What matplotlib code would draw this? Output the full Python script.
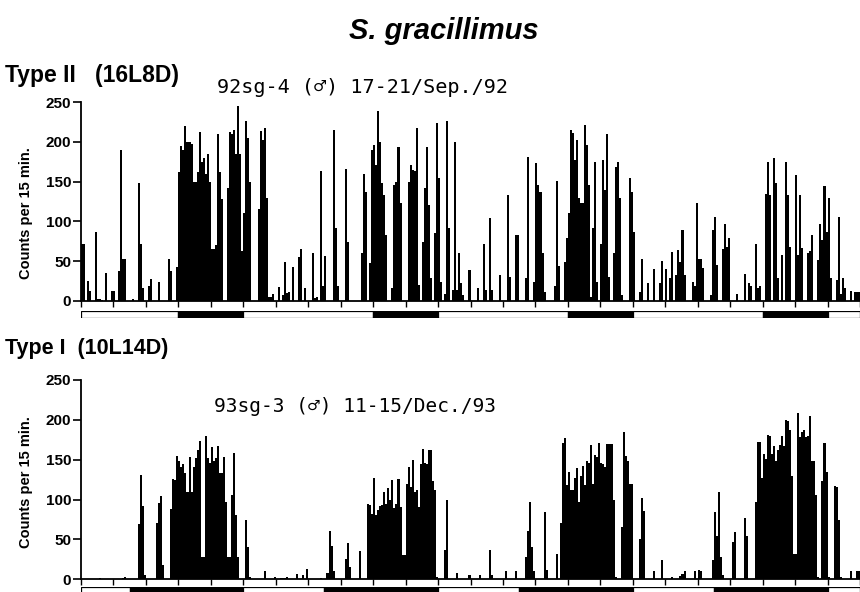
import numpy as np
import matplotlib
matplotlib.use('Agg')
import matplotlib.pyplot as plt

# -----------------------------
# data: counts per 15-min bin, 4 days = 384 bins (one row = 4 h)
# -----------------------------
type2_counts = [
    72, 72, 0, 25, 12, 0, 0, 86, 2, 2, 1, 0, 35, 0, 0, 12,
    12, 0, 38, 190, 53, 53, 0, 0, 0, 2, 0, 0, 148, 72, 16, 0,
    0, 18, 27, 0, 0, 0, 23, 0, 0, 0, 0, 53, 37, 0, 0, 43,
    162, 195, 190, 220, 200, 200, 198, 150, 150, 162, 212, 175, 180, 160, 185, 150,
    65, 65, 70, 210, 162, 128, 0, 0, 142, 212, 210, 215, 185, 245, 185, 62,
    110, 227, 205, 150, 0, 0, 0, 116, 214, 202, 218, 129, 5, 5, 9, 0,
    0, 17, 0, 7, 49, 10, 11, 0, 43, 0, 0, 55, 65, 0, 16, 0,
    0, 0, 60, 4, 5, 0, 163, 18, 56, 0, 0, 0, 215, 91, 18, 0,
    0, 0, 166, 74, 0, 0, 0, 0, 0, 0, 60, 160, 137, 0, 47, 190,
    196, 171, 239, 200, 148, 133, 83, 0, 0, 16, 146, 150, 194, 123, 0, 0,
    0, 150, 171, 165, 163, 217, 20, 0, 74, 142, 194, 121, 28, 0, 85, 224,
    154, 24, 0, 9, 226, 91, 0, 13, 200, 13, 60, 22, 7, 0, 0, 39,
    0, 0, 0, 16, 0, 0, 71, 13, 0, 104, 13, 0, 0, 0, 32, 0,
    0, 0, 133, 30, 0, 0, 83, 83, 0, 0, 0, 28, 181, 0, 0, 24,
    173, 146, 137, 60, 11, 0, 0, 0, 0, 19, 151, 44, 0, 0, 49, 79,
    110, 215, 211, 177, 202, 129, 123, 123, 221, 196, 146, 5, 91, 175, 24, 0,
    72, 177, 140, 210, 30, 0, 60, 169, 175, 129, 7, 0, 0, 0, 154, 137,
    87, 0, 0, 11, 53, 0, 0, 22, 0, 0, 40, 0, 0, 22, 50, 0,
    40, 0, 28, 61, 0, 32, 64, 49, 89, 32, 0, 0, 0, 24, 19, 123,
    52, 52, 41, 0, 0, 0, 7, 89, 106, 45, 0, 0, 65, 96, 68, 79,
    0, 0, 0, 9, 0, 0, 0, 34, 0, 22, 18, 0, 72, 16, 19, 0,
    0, 135, 175, 133, 0, 180, 148, 29, 0, 58, 0, 175, 133, 68, 0, 0,
    159, 58, 133, 66, 0, 0, 60, 62, 83, 0, 0, 51, 97, 76, 144, 87,
    130, 28, 0, 0, 26, 105, 8, 29, 16, 0, 0, 12, 0, 11, 11, 11,
]

type1_counts = [
    1, 1, 0, 1, 0, 0, 0, 1, 0, 2, 0, 1, 1, 0, 0, 0,
    0, 0, 0, 0, 2, 3, 1, 0, 0, 0, 0, 0, 69, 131, 92, 5,
    0, 0, 1, 0, 0, 71, 96, 104, 18, 0, 0, 0, 88, 126, 125, 155,
    148, 141, 145, 133, 110, 154, 110, 141, 152, 162, 174, 28, 28, 180, 152, 146,
    166, 148, 152, 167, 133, 133, 153, 97, 28, 28, 106, 158, 81, 28, 0, 0,
    0, 74, 41, 3, 0, 0, 0, 0, 0, 0, 10, 0, 0, 0, 0, 3,
    0, 0, 2, 2, 2, 3, 0, 0, 0, 0, 7, 0, 0, 5, 0, 13,
    0, 0, 0, 0, 0, 0, 2, 0, 0, 8, 61, 42, 10, 0, 0, 0,
    0, 0, 26, 45, 16, 0, 0, 0, 0, 36, 0, 0, 0, 95, 93, 82,
    127, 81, 87, 92, 93, 109, 95, 114, 100, 124, 90, 95, 126, 91, 31, 31,
    120, 141, 116, 150, 109, 112, 91, 144, 164, 146, 144, 162, 162, 123, 112, 3,
    0, 0, 0, 37, 99, 0, 0, 0, 0, 8, 0, 0, 0, 0, 0, 5,
    0, 0, 0, 0, 5, 0, 0, 0, 0, 37, 5, 0, 0, 0, 0, 0,
    0, 11, 0, 0, 0, 0, 10, 0, 0, 0, 0, 28, 60, 97, 40, 10,
    0, 0, 0, 0, 84, 12, 0, 0, 0, 0, 32, 0, 70, 171, 177, 118,
    134, 112, 112, 127, 139, 97, 129, 142, 118, 148, 146, 169, 120, 156, 154, 171,
    146, 144, 141, 170, 170, 170, 100, 3, 0, 0, 66, 185, 155, 148, 120, 120,
    0, 0, 0, 50, 102, 86, 0, 0, 0, 0, 11, 0, 0, 0, 24, 0,
    0, 0, 0, 3, 0, 0, 0, 4, 7, 10, 0, 0, 0, 0, 10, 0,
    12, 11, 0, 0, 0, 0, 0, 24, 85, 54, 110, 28, 5, 0, 0, 0,
    0, 47, 59, 0, 0, 0, 0, 77, 54, 0, 0, 0, 97, 172, 172, 127,
    157, 151, 181, 180, 157, 167, 148, 162, 169, 180, 167, 200, 198, 187, 129, 32,
    32, 208, 179, 185, 187, 179, 180, 205, 148, 148, 106, 3, 0, 123, 171, 135,
    3, 0, 0, 117, 116, 74, 3, 0, 0, 0, 0, 10, 0, 0, 11, 11,
]

# light/dark schedule (hours), 'L' light, 'D' dark
type2_ld_phase = ['L', 'D', 'L', 'D', 'L', 'D', 'L', 'D', 'L']
type2_ld_hours = [12, 8, 16, 8, 16, 8, 16, 8, 4]
type1_ld_phase = ['L', 'D', 'L', 'D', 'L', 'D', 'L', 'D', 'L']
type1_ld_hours = [6, 14, 10, 14, 10, 14, 10, 14, 4]

yticks = [0, 50, 100, 150, 200, 250]
BIN_H = 0.25  # 15 min
TOTAL_H = 96

plt.rcParams['font.family'] = ['Liberation Sans', 'DejaVu Sans']


def draw_panel(ax, counts, label_y=0.5):
    t = np.arange(len(counts)) * BIN_H
    ax.bar(t, counts, width=BIN_H, align='edge', color='black', linewidth=0)
    ax.set_xlim(0, TOTAL_H)
    ax.set_ylim(0, 250)
    ax.set_xticks(np.arange(0, TOTAL_H + 1, 4))
    ax.set_xticklabels([])
    ax.set_yticks(yticks)
    ax.set_yticklabels([str(v) for v in yticks], fontweight='bold', fontsize=11)
    ax.set_ylabel('Counts per 15 min.', fontweight='bold', fontsize=10.5)
    ax.yaxis.set_label_coords(-0.062, label_y)
    ax.spines['top'].set_visible(False)
    ax.spines['right'].set_visible(False)
    ax.spines['left'].set_linewidth(1.3)
    ax.spines['bottom'].set_linewidth(1.3)
    ax.tick_params(axis='y', direction='out', length=6, width=1.2, pad=1)
    ax.tick_params(axis='x', direction='out', length=4, width=1.0)


def draw_ld(ax, phases, hours):
    start = 0
    for ph, h in zip(phases, hours):
        fc = 'black' if ph == 'D' else 'white'
        ax.barh(0, h, left=start, height=1, color=fc, edgecolor='black', linewidth=0.9)
        start += h
    ax.set_xlim(0, TOTAL_H)
    ax.set_ylim(-0.5, 0.5)
    ax.axis('off')


fig = plt.figure(figsize=(8.6, 5.92), dpi=100)

ax_top = fig.add_axes([0.0942, 0.4921, 0.9058, 0.3351])
draw_panel(ax_top, type2_counts, label_y=0.44)
ld_top = fig.add_axes([0.0942, 0.4628, 0.9058, 0.0118])
draw_ld(ld_top, type2_ld_phase, type2_ld_hours)

ax_bot = fig.add_axes([0.0942, 0.02145, 0.9058, 0.3367])
draw_panel(ax_bot, type1_counts, label_y=0.49)
ld_bot = fig.add_axes([0.0942, -0.004, 0.9058, 0.0118])
draw_ld(ld_bot, type1_ld_phase, type1_ld_hours)

fig.text(0.516, 0.948, 'S. gracillimus', ha='center', va='center',
         fontsize=21, fontweight='bold', fontstyle='italic')
fig.text(0.006, 0.872, 'Type II   (16L8D)', ha='left', va='center',
         fontsize=16.5, fontweight='bold')
fig.text(0.006, 0.412, 'Type I  (10L14D)', ha='left', va='center',
         fontsize=15.5, fontweight='bold')

mono = ['DejaVu Sans Mono', 'DejaVu Sans']
fig.text(0.422, 0.853, '92sg-4 (\u2642) 17-21/Sep./92', ha='center', va='center',
         fontsize=14.5, family=mono)
fig.text(0.413, 0.3125, '93sg-3 (\u2642) 11-15/Dec./93', ha='center', va='center',
         fontsize=14, family=mono)

fig.savefig('out.png', dpi=100)
